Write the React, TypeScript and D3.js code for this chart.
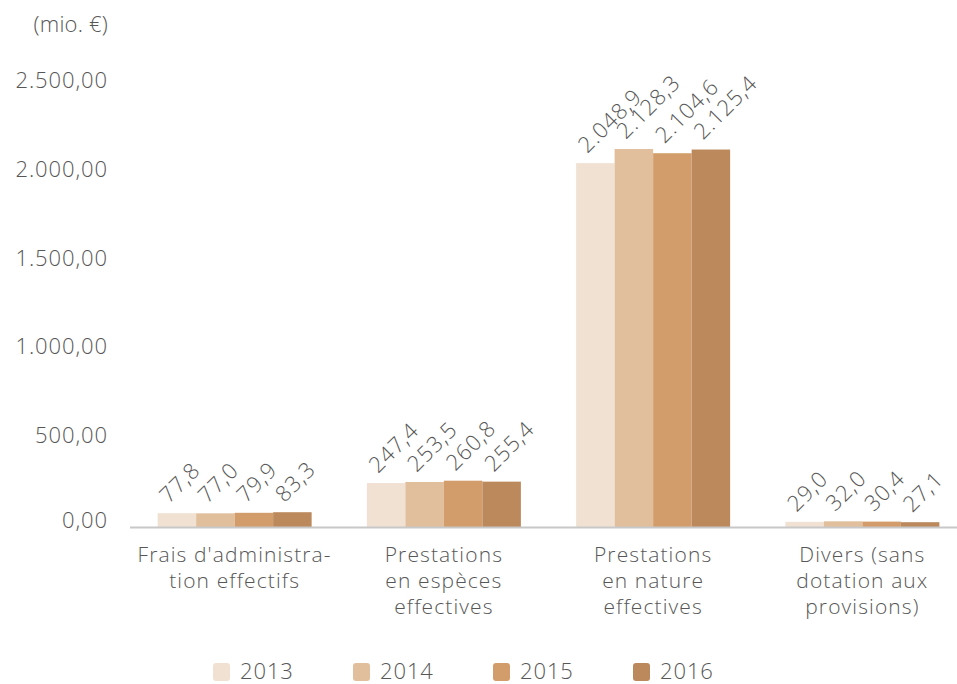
import React from "react";
import * as d3 from "d3";

const categories = [
  ["Frais d'administra-", "tion effectifs"],
  ["Prestations", "en espèces", "effectives"],
  ["Prestations", "en nature", "effectives"],
  ["Divers (sans", "dotation aux", "provisions)"],
];
const years = ["2013", "2014", "2015", "2016"];
const values2013 = [77.8, 247.4, 2048.9, 29.0];
const values2014 = [77.0, 253.5, 2128.3, 32.0];
const values2015 = [79.9, 260.8, 2104.6, 30.4];
const values2016 = [83.3, 255.4, 2125.4, 27.1];
const seriesValues = [values2013, values2014, values2015, values2016];
const colors = ["#f1e1d3", "#e1bf9d", "#d39d6b", "#bb895c"];
const yTicks = [0, 500, 1000, 1500, 2000, 2500];
const unitLabel = "(mio. €)";

const W = 957;
const H = 684;
const FONT = "'Open Sans', 'DejaVu Sans', sans-serif";
const textColor = "#575757";

const fmtTick = (v: number) => {
  const s = v.toFixed(2).replace(".", ",");
  const [i, d] = s.split(",");
  return i.replace(/\B(?=(\d{3})+(?!\d))/g, ".") + "," + d;
};
const fmtVal = (v: number) => {
  const s = v.toFixed(1);
  const [i, d] = s.split(".");
  return i.replace(/\B(?=(\d{3})+(?!\d))/g, ".") + "," + d;
};

export default function App() {
  const x0 = d3
    .scaleBand<number>()
    .domain(d3.range(categories.length))
    .range([130, 967])
    .paddingInner(0.264)
    .paddingOuter(0.132);
  const x1 = d3
    .scaleBand<number>()
    .domain(d3.range(years.length))
    .range([0, x0.bandwidth()])
    .padding(0);
  const y = d3.scaleLinear().domain([0, 2500]).range([527, 83]);

  const textStyle: React.CSSProperties = {
    fontFamily: FONT,
    fontWeight: 300,
    fontSize: 22,
    letterSpacing: 0.9,
    fill: textColor,
  };
  const catStyle: React.CSSProperties = { ...textStyle, fontSize: 21, letterSpacing: 1.1 };

  return (
    <svg
      width={W}
      height={H}
      style={{ position: "absolute", left: 0, top: 0, background: "#fff" }}
    >
      <text x={108} y={32} textAnchor="end" style={{ ...textStyle, letterSpacing: 0.2 }}>
        {unitLabel}
      </text>
      {yTicks.map((t) => (
        <text key={t} x={108} y={y(t) + (t === 0 ? 1 : 5)} textAnchor="end" style={textStyle}>
          {fmtTick(t)}
        </text>
      ))}
      {seriesValues.map((vals, si) =>
        vals.map((v, ci) => {
          const bx = (x0(ci) as number) + (x1(si) as number);
          return (
            <rect
              key={`${si}-${ci}`}
              x={bx}
              y={y(v)}
              width={x1.bandwidth()}
              height={y(0) - y(v)}
              fill={colors[si]}
            />
          );
        })
      )}
      <line x1={130} x2={W} y1={527.5} y2={527.5} stroke="#c8c8c8" strokeWidth={2} />
      {seriesValues.map((vals, si) =>
        vals.map((v, ci) => {
          const cx = (x0(ci) as number) + (x1(si) as number) + x1.bandwidth() / 2;
          const ty = y(v) - 9;
          const tx = cx - 8;
          return (
            <text
              key={`l-${si}-${ci}`}
              transform={`translate(${tx},${ty}) rotate(-45)`}
              style={textStyle}
            >
              {fmtVal(v)}
            </text>
          );
        })
      )}
      {categories.map((lines, ci) => {
        const cx = (x0(ci) as number) + x0.bandwidth() / 2;
        return (
          <text key={`c-${ci}`} textAnchor="middle" style={catStyle}>
            {lines.map((ln, li) => (
              <tspan key={li} x={cx} y={562 + li * 26}>
                {ln}
              </tspan>
            ))}
          </text>
        );
      })}
      {years.map((yr, i) => {
        const lx = 213 + i * 140;
        return (
          <g key={yr}>
            <rect x={lx} y={663} width={17} height={18} rx={3} fill={colors[i]} />
            <text x={lx + 27} y={679} style={textStyle}>
              {yr}
            </text>
          </g>
        );
      })}
    </svg>
  );
}
